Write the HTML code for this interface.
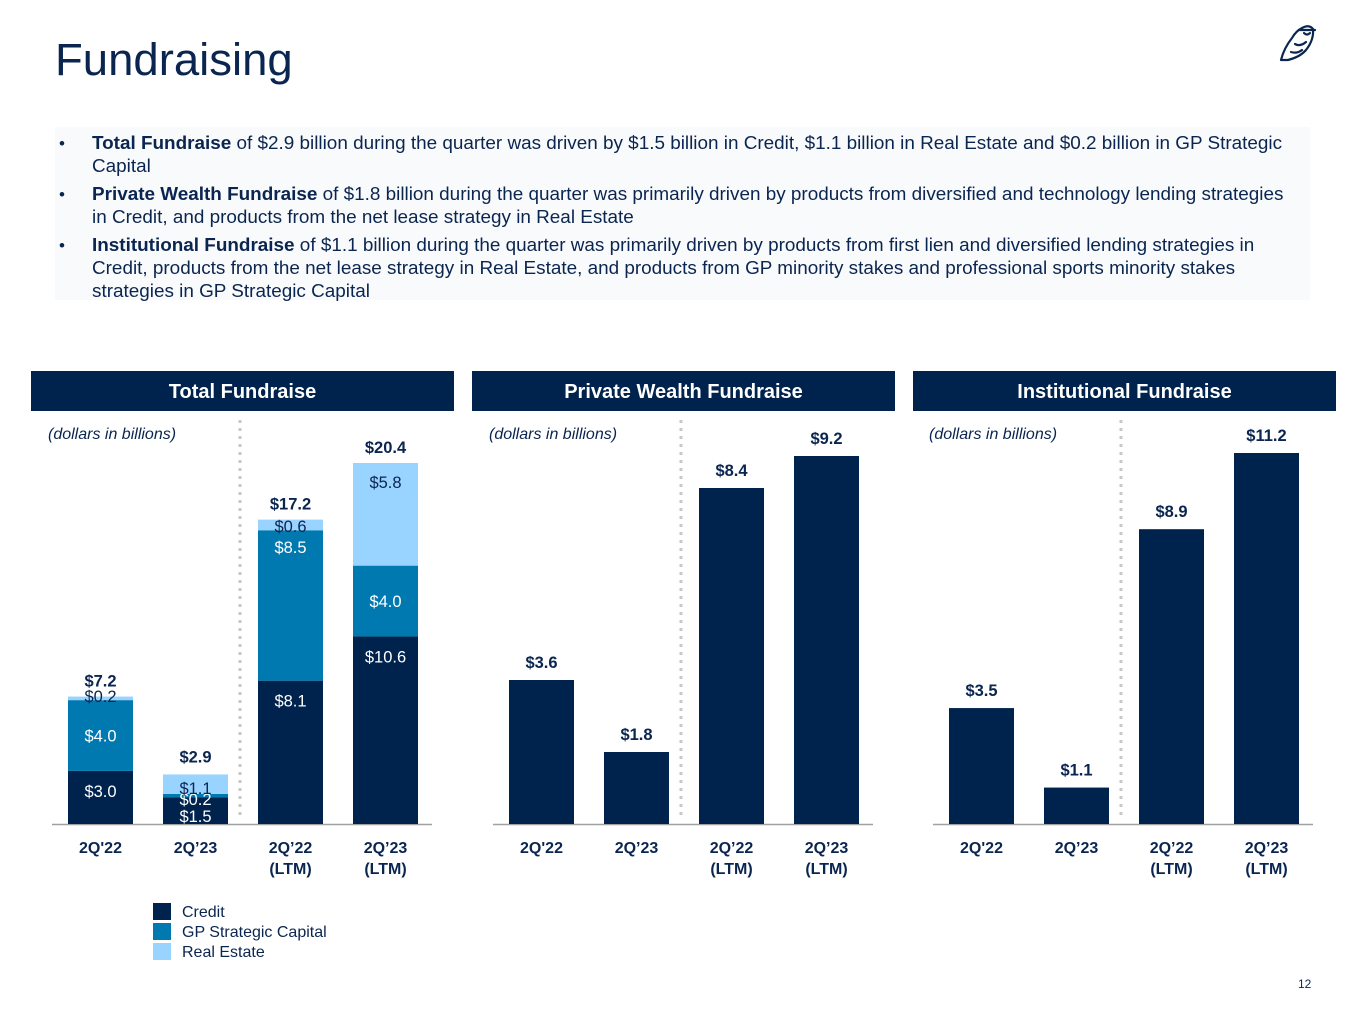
<!DOCTYPE html>
<html><head><meta charset="utf-8">
<style>
body{margin:0;width:1365px;height:1024px;background:#fff;font-family:"Liberation Sans",Arial,sans-serif;color:#0a2550;position:relative;overflow:hidden}
.abs{position:absolute}
#title{left:55px;top:37px;font-size:45.5px;color:#0a2550;line-height:1}
#bullets{left:55px;top:127px;width:1255px;height:173px;background:#f9fafb}
.ln{position:absolute;left:37px;font-size:18.9px;line-height:20px;white-space:nowrap;color:#0a2550}
.bd{position:absolute;left:4px;font-size:17px}
.hdr{position:absolute;top:371px;width:423px;height:40px;background:#00234d;color:#fff;font-weight:bold;font-size:20px;line-height:42px;text-align:center}
.leg{position:absolute;left:153px;width:18px;height:17px}
.legt{position:absolute;left:182px;font-size:16px;line-height:17px}
</style></head><body>
<div id="title" class="abs">Fundraising</div>
<svg class="abs" style="left:1276px;top:20px" width="44" height="46" viewBox="0 0 44 46">
<g fill="none" stroke="#0a2550" stroke-width="2.2" stroke-linecap="round" stroke-linejoin="round">
<path d="M26 8 Q33 4 37 9 Q38 20 30 30 Q24 37 12 40 L5 40 Q8 28 16 18 Q20 11 26 8 Z"/>
<path d="M24 10 L39 10"/><path d="M28 13 Q31 16 34 13"/><path d="M19 24 Q24 27 30 22"/><path d="M15 32 Q21 34 26 30"/>
</g></svg>
<div id="bullets" class="abs">
<div class="bd" style="top:7px">•</div>
<div class="ln" style="top:7px"><b>Total Fundraise</b> of $2.9 billion during the quarter was driven by $1.5 billion in Credit, $1.1 billion in Real Estate and $0.2 billion in GP Strategic</div>
<div class="ln" style="top:30px">Capital</div>
<div class="bd" style="top:58px">•</div>
<div class="ln" style="top:58px"><b>Private Wealth Fundraise</b> of $1.8 billion during the quarter was primarily driven by products from diversified and technology lending strategies</div>
<div class="ln" style="top:81px">in Credit, and products from the net lease strategy in Real Estate</div>
<div class="bd" style="top:109px">•</div>
<div class="ln" style="top:109px"><b>Institutional Fundraise</b> of $1.1 billion during the quarter was primarily driven by products from first lien and diversified lending strategies in</div>
<div class="ln" style="top:132px">Credit, products from the net lease strategy in Real Estate, and products from GP minority stakes and professional sports minority stakes</div>
<div class="ln" style="top:155px">strategies in GP Strategic Capital</div>
</div>
<div class="hdr" style="left:31px">Total Fundraise</div>
<div class="hdr" style="left:472px">Private Wealth Fundraise</div>
<div class="hdr" style="left:913px">Institutional Fundraise</div>

<svg id="charts" class="abs" style="left:0;top:0" width="1365" height="1024"></svg>

<div class="leg" style="top:903px;background:#00234d"></div>
<div class="leg" style="top:923px;background:#0079b0"></div>
<div class="leg" style="top:943px;background:#99d3ff"></div>
<div class="legt" style="top:904px">Credit</div>
<div class="legt" style="top:924px">GP Strategic Capital</div>
<div class="legt" style="top:944px">Real Estate</div>
<div class="abs" style="left:1298px;top:977px;font-size:12px">12</div>

<script>
const categories = ["2Q'22","2Q’23","2Q’22\n(LTM)","2Q’23\n(LTM)"];
const credit = [3.0,1.5,8.1,10.6];
const gp = [4.0,0.2,8.5,4.0];
const realEstate = [0.2,1.1,0.6,5.8];
const totals = [7.2,2.9,17.2,20.4];
const privateWealth = [3.6,1.8,8.4,9.2];
const institutional = [3.5,1.1,8.9,11.2];

const NS="http://www.w3.org/2000/svg";
const svg=document.getElementById('charts');
const BASE=824;
function mk(tag,attrs,parent){const e=document.createElementNS(NS,tag);for(const k in attrs)e.setAttribute(k,attrs[k]);(parent||svg).appendChild(e);return e;}
function txt(x,y,s,opt,name){const t=mk('text',Object.assign({x:x,y:y,'text-anchor':'middle','font-family':'Liberation Sans, Arial, sans-serif','font-size':16.5,fill:'#0a2550'},opt));t.textContent=s;


return t;}
function panel(x0,maxV,plotH,idx){
  const g=mk('g',{});
  
  
  const sep=mk('line',{x1:x0+172,x2:x0+172,y1:420,y2:820,stroke:'#c8c8c8','stroke-width':3,'stroke-dasharray':'3 5'},g);
  
  
  const ax=mk('line',{x1:x0-16,x2:x0+364,y1:BASE+0.5,y2:BASE+0.5,stroke:'#a0a0a0','stroke-width':1.5},g);
  
  
  const it=txt(x0-20,439,'(dollars in billions)',{'text-anchor':'start','font-style':'italic','font-size':16},'units-note');g.appendChild(it);
  categories.forEach((c,i)=>{const cx=x0+32.5+i*95;c.split('\n').forEach((l,j)=>{const t=txt(cx,853+j*21,l,{'font-weight':'bold','font-size':16},'x-tick-label');g.appendChild(t);});});
  const scale=v=>v/maxV*plotH;
  return {g,scale,xs:i=>x0+i*95};
}
(function(){
  const p=panel(68,20.4,361,1);
  const series=[[credit,'#00234d','credit'],[gp,'#0079b0','gp-strategic-capital'],[realEstate,'#99d3ff','real-estate']];
  categories.forEach((c,i)=>{
    let acc=0;
    series.forEach(([arr,col,nm])=>{
      const h=p.scale(arr[i]);const y=BASE-p.scale(acc)-h;
      const r=mk('rect',{x:p.xs(i),y:y,width:65,height:h,fill:col},p.g);
      
      
      acc+=arr[i];
    });
  });
  categories.forEach((c,i)=>{
    const cx=p.xs(i)+32.5;
    const yc=BASE-p.scale(credit[i]), yg=BASE-p.scale(credit[i]+gp[i]), yt=BASE-p.scale(totals[i]);
    const small=totals[i]<5;
    if(small){
      p.g.appendChild(txt(cx,BASE-2,'$'+credit[i].toFixed(1),{fill:'#fff'},'credit-value'));
      p.g.appendChild(txt(cx,BASE-19,'$'+gp[i].toFixed(1),{fill:'#fff'},'gp-value'));
      p.g.appendChild(txt(cx,BASE-30,'$'+realEstate[i].toFixed(1),{},'real-estate-value'));
    }else{
      p.g.appendChild(txt(cx,yc+26,'$'+credit[i].toFixed(1),{fill:'#fff'},'credit-value'));
      const gy = realEstate[i]<1 ? yg+23 : (yc+yg)/2+6;
      const gy2 = (realEstate[i]<1 && gp[i]<5) ? (yc+yg)/2+6 : gy;
      p.g.appendChild(txt(cx,gy2,'$'+gp[i].toFixed(1),{fill:'#fff'},'gp-value'));
      const ry = realEstate[i]<1 ? yg+2 : yt+25;
      p.g.appendChild(txt(cx,ry,'$'+realEstate[i].toFixed(1),{},'real-estate-value'));
    }
    p.g.appendChild(txt(cx,yt-10,'$'+totals[i].toFixed(1),{'font-weight':'bold'},'total-value'));
  });
})();
function simple(x0,maxV,plotH,arr,idx,nm){
  const p=panel(x0,maxV,plotH,idx);
  arr.forEach((v,i)=>{
    const h=p.scale(v);
    const r=mk('rect',{x:p.xs(i),y:BASE-h,width:65,height:h,fill:'#00234d'},p.g);
    
    
    p.g.appendChild(txt(p.xs(i)+32.5,BASE-h-12,'$'+v.toFixed(1),{'font-weight':'bold'},'bar-value'));
  });
}
simple(509,9.2,368,privateWealth,2,'private-wealth');
simple(949,11.2,371,institutional,3,'institutional');
</script>
</body></html>
